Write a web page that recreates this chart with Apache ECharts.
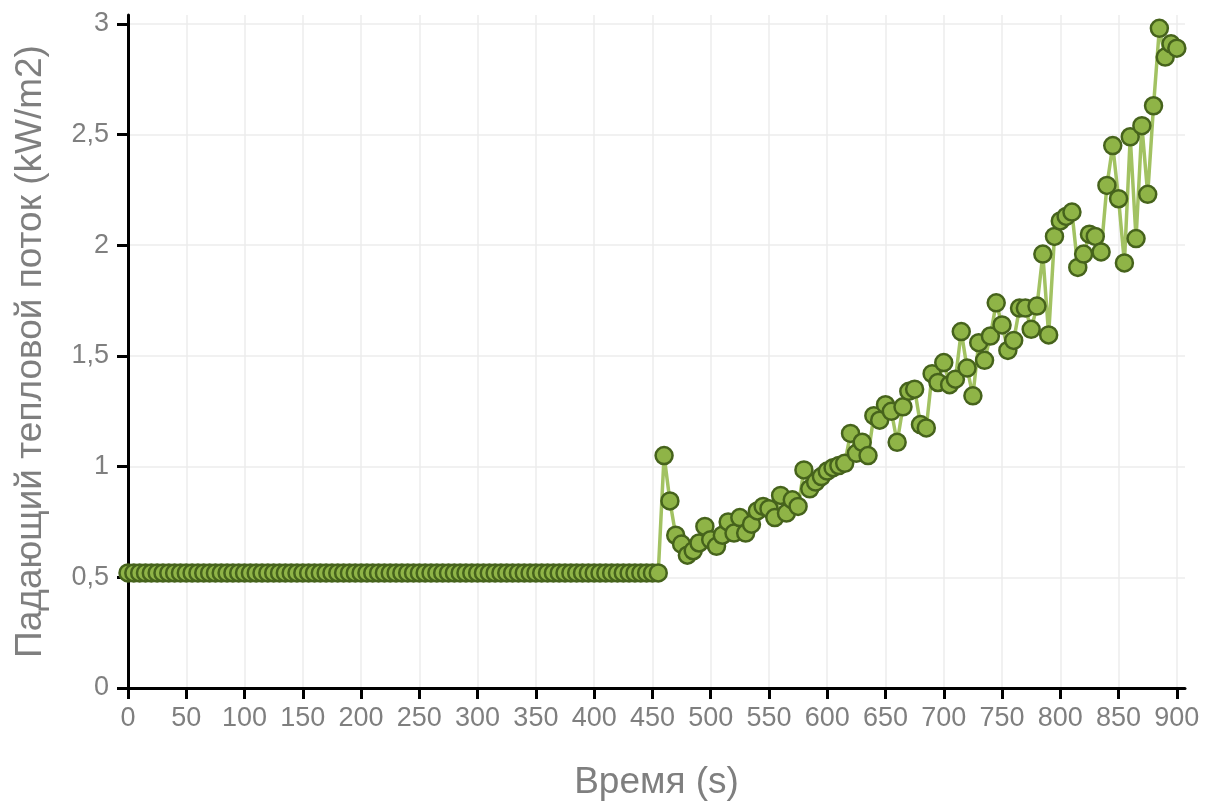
<!DOCTYPE html>
<html>
<head>
<meta charset="utf-8">
<script src="https://cdn.jsdelivr.net/npm/echarts@6/dist/echarts.min.js"></script>
<style>html,body{margin:0;padding:0;background:#fff}#c{width:1218px;height:811px}</style>
</head>
<body>
<div id="c"></div>
<script>
const times = [0,5,10,15,20,25,30,35,40,45,50,55,60,65,70,75,80,85,90,95,
  100,105,110,115,120,125,130,135,140,145,150,155,160,165,170,175,180,185,190,195,
  200,205,210,215,220,225,230,235,240,245,250,255,260,265,270,275,280,285,290,295,
  300,305,310,315,320,325,330,335,340,345,350,355,360,365,370,375,380,385,390,395,
  400,405,410,415,420,425,430,435,440,445,450,455,
  460,465,470,475,480,485,490,495,500,505,510,515,520,525,530,535,540,545,550,555,
  560,565,570,575,580,585,590,595,600,605,610,615,620,625,630,635,640,645,650,655,
  660,665,670,675,680,685,690,695,700,705,710,715,720,725,730,735,740,745,750,755,
  760,765,770,775,780,785,790,795,800,805,810,815,820,825,830,835,840,845,850,855,
  860,865,870,875,880,885,890,895,900];
const flux = [0.52,0.52,0.52,0.52,0.52,0.52,0.52,0.52,0.52,0.52,0.52,0.52,0.52,0.52,0.52,0.52,0.52,0.52,0.52,0.52,
  0.52,0.52,0.52,0.52,0.52,0.52,0.52,0.52,0.52,0.52,0.52,0.52,0.52,0.52,0.52,0.52,0.52,0.52,0.52,0.52,
  0.52,0.52,0.52,0.52,0.52,0.52,0.52,0.52,0.52,0.52,0.52,0.52,0.52,0.52,0.52,0.52,0.52,0.52,0.52,0.52,
  0.52,0.52,0.52,0.52,0.52,0.52,0.52,0.52,0.52,0.52,0.52,0.52,0.52,0.52,0.52,0.52,0.52,0.52,0.52,0.52,
  0.52,0.52,0.52,0.52,0.52,0.52,0.52,0.52,0.52,0.52,0.52,0.52,
  1.05,0.845,0.69,0.65,0.60,0.62,0.655,0.73,0.67,0.64,0.69,0.75,0.70,0.77,0.70,0.74,0.80,0.82,0.81,0.77,
  0.87,0.79,0.85,0.82,0.985,0.90,0.93,0.955,0.98,0.995,1.005,1.015,1.15,1.06,1.11,1.05,1.23,1.21,1.28,1.25,
  1.11,1.27,1.34,1.35,1.19,1.175,1.42,1.38,1.47,1.37,1.395,1.61,1.445,1.32,1.56,1.48,1.59,1.74,1.64,1.525,
  1.57,1.716,1.716,1.62,1.725,1.96,1.595,2.04,2.11,2.13,2.15,1.90,1.96,2.05,2.04,1.97,2.27,2.45,2.21,1.92,
  2.49,2.03,2.54,2.23,2.63,2.98,2.85,2.91,2.89];
const xTicks = [0,50,100,150,200,250,300,350,400,450,500,550,600,650,700,750,800,850,900];
const yTicks = [0,0.5,1,1.5,2,2.5,3];

const data = times.map((t, i) => [t, flux[i]]);
const chart = echarts.init(document.getElementById('c'));
const labelColor = '#7f7f7f';
chart.setOption({
  animation: false,
  grid: {left: 128, right: 33, top: 15, bottom: 123, containLabel: false},
  xAxis: {
    type: 'value', min: 0, max: 907, interval: 50,
    name: 'Время (s)', nameLocation: 'middle', nameGap: 76,
    nameTextStyle: {fontSize: 37, color: labelColor, fontFamily: 'Liberation Sans'},
    axisLine: {show: true, onZero: false, lineStyle: {color: '#000', width: 3}},
    axisTick: {show: true, length: 11, customValues: xTicks, lineStyle: {color: '#000', width: 3}},
    axisLabel: {customValues: xTicks, fontSize: 27, color: labelColor, margin: 17, fontFamily: 'Liberation Sans'},
    splitLine: {show: true, lineStyle: {color: '#ececec', width: 1.5}}
  },
  yAxis: {
    type: 'value', min: 0, max: 3.04, interval: 0.5,
    name: 'Падающий тепловой поток (kW/m2)', nameLocation: 'middle', nameGap: 79,
    nameTextStyle: {fontSize: 37, color: labelColor, fontFamily: 'Liberation Sans'},
    axisLine: {show: true, lineStyle: {color: '#000', width: 3}},
    axisTick: {show: true, length: 11, customValues: yTicks, lineStyle: {color: '#000', width: 3}},
    axisLabel: {customValues: yTicks, fontSize: 27, color: labelColor, margin: 19, fontFamily: 'Liberation Sans',
      formatter: v => String(v).replace('.', ',')},
    splitLine: {show: true, lineStyle: {color: '#ececec', width: 1.5}}
  },
  series: [{
    type: 'line', data: data, clip: false,
    symbol: 'circle', symbolSize: 17,
    lineStyle: {color: '#a2c262', width: 3.5},
    itemStyle: {color: '#8fb447', borderColor: '#46631c', borderWidth: 2.5}
  }]
});
</script>
</body>
</html>
